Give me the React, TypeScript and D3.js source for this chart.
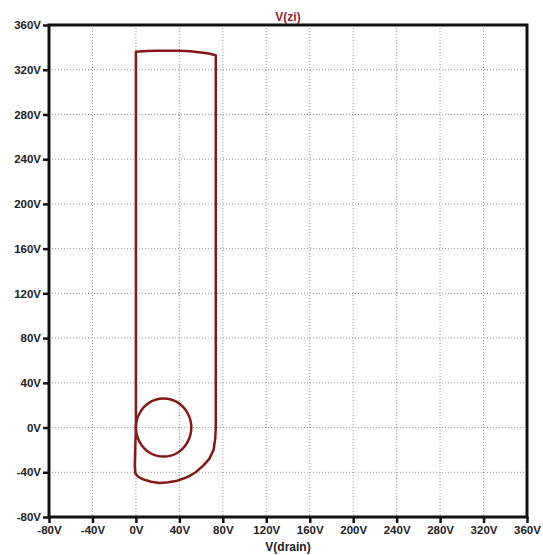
import React, { useEffect, useRef } from 'react';
import * as d3 from 'd3';

// tick values (volts) shared by both axes
const ticks = [-80, -40, 0, 40, 80, 120, 160, 200, 240, 280, 320, 360];

// inner loop, V(drain) / V(zi)
const loopX = [0, 3.5, 12.7, 25.5, 38.3, 47.5, 51, 47.5, 38.3, 25.5, 12.7, 3.5];
const loopY = [0, 13, 22.5, 26, 22.5, 13, 0, -13, -22.5, -26, -22.5, -13];

// outer trajectory
const outerX = [0, 0, 10, 20, 30, 40, 50, 60, 67, 73.5, 73.5, 73.5, 73, 71.5, 67.5, 62, 55, 47, 38, 30, 22, 14, 7, 2, -0.5, -1, -0.5, 0];
const outerY = [0, 336, 336.8, 337, 337, 337, 336.5, 335.5, 334.5, 333, 60, 0, -10, -20, -28, -34, -40, -44.5, -47.5, -49, -49.5, -48.5, -46.5, -44, -41, -34, -15, 0];

const W = 543;
const H = 555;
const margin = { top: 25, right: 16, bottom: 38, left: 49 };
const curveColor = '#861818';

const App = () => {
  const svgRef = useRef<SVGSVGElement>(null);

  useEffect(() => {
    const svg = d3.select(svgRef.current);
    svg.selectAll('*').remove();

    const x = d3.scaleLinear().domain([-80, 360]).range([margin.left, W - margin.right]);
    const y = d3.scaleLinear().domain([-80, 360]).range([H - margin.bottom, margin.top]);

    const grid = svg.append('g');
    grid.selectAll('.vg')
      .data(ticks.slice(1, -1))
      .enter()
      .append('line')
      .attr('x1', d => x(d))
      .attr('x2', d => x(d))
      .attr('y1', y(360))
      .attr('y2', y(-80))
      .attr('stroke', '#999')
      .attr('stroke-dasharray', '1,2');
    grid.selectAll('.hg')
      .data(ticks.slice(1, -1))
      .enter()
      .append('line')
      .attr('y1', d => y(d))
      .attr('y2', d => y(d))
      .attr('x1', x(-80))
      .attr('x2', x(360))
      .attr('stroke', '#999')
      .attr('stroke-dasharray', '1,2');

    const outer = outerX.map((v, i) => [v, outerY[i]] as [number, number]);
    const outerLine = d3.line<[number, number]>()
      .x(d => x(d[0]))
      .y(d => y(d[1]))
      .curve(d3.curveLinear);
    svg.append('path')
      .attr('d', outerLine(outer))
      .attr('fill', 'none')
      .attr('stroke', curveColor)
      .attr('stroke-width', 2.5)
      .attr('stroke-linejoin', 'round');

    const loop = loopX.map((v, i) => [v, loopY[i]] as [number, number]);
    const loopLine = d3.line<[number, number]>()
      .x(d => x(d[0]))
      .y(d => y(d[1]))
      .curve(d3.curveCatmullRomClosed.alpha(0.5));
    svg.append('path')
      .attr('d', loopLine(loop))
      .attr('fill', 'none')
      .attr('stroke', curveColor)
      .attr('stroke-width', 2.5);

    const fmt = (d: d3.NumberValue) => `${d}V`;

    const xAxis = svg.append('g')
      .attr('transform', `translate(0,${H - margin.bottom})`)
      .call(d3.axisBottom(x).tickValues(ticks).tickFormat(fmt).tickSizeOuter(0).tickSize(6).tickPadding(3));
    const yAxis = svg.append('g')
      .attr('transform', `translate(${margin.left},0)`)
      .call(d3.axisLeft(y).tickValues(ticks).tickFormat(fmt).tickSizeOuter(0).tickSize(6).tickPadding(2));

    [xAxis, yAxis].forEach(ax => {
      ax.select('.domain').remove();
      ax.selectAll('.tick line').attr('stroke', '#111').attr('stroke-width', 2.5);
      ax.selectAll('.tick text')
        .attr('fill', '#222')
        .style('font-family', 'Liberation Sans, Arial, sans-serif')
        .style('font-size', '11.5px')
        .style('font-weight', 'bold');
    });

    // frame
    svg.append('rect')
      .attr('x', x(-80))
      .attr('y', y(360))
      .attr('width', x(360) - x(-80))
      .attr('height', y(-80) - y(360))
      .attr('fill', 'none')
      .attr('stroke', '#111')
      .attr('stroke-width', 3);

    svg.append('text')
      .attr('x', (x(-80) + x(360)) / 2)
      .attr('y', 21)
      .attr('text-anchor', 'middle')
      .attr('fill', '#9b1b30')
      .style('font-family', 'Liberation Sans, Arial, sans-serif')
      .style('font-size', '12px')
      .style('font-weight', 'bold')
      .text('V(zi)');

    svg.append('text')
      .attr('x', (x(-80) + x(360)) / 2)
      .attr('y', 551)
      .attr('text-anchor', 'middle')
      .attr('fill', '#222')
      .style('font-family', 'Liberation Sans, Arial, sans-serif')
      .style('font-size', '12px')
      .style('font-weight', 'bold')
      .text('V(drain)');
  }, []);

  return (
    <svg
      ref={svgRef}
      width={W}
      height={H}
      style={{ position: 'absolute', left: 0, top: 0, background: '#fff' }}
    />
  );
};

export default App;
